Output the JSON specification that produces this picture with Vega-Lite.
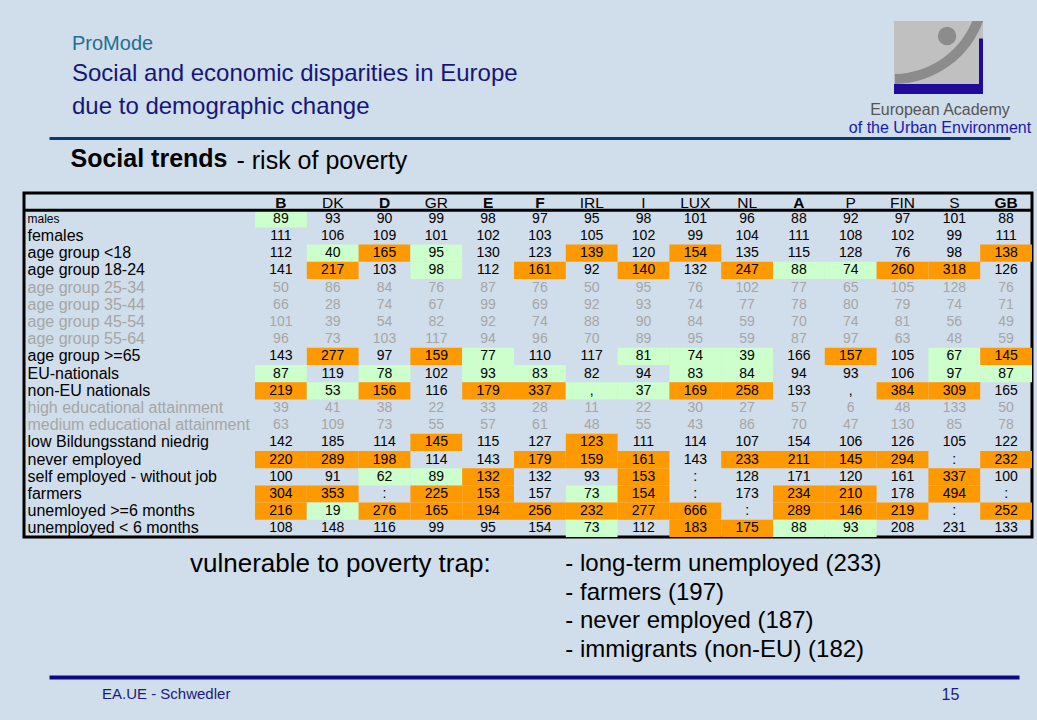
{
  "$schema": "https://vega.github.io/schema/vega-lite/v6.json",
  "background": "#D0DDEA",
  "padding": {"left": 21, "top": 21, "right": 5, "bottom": 19},
  "spacing": 0,
  "bounds": "flush",
  "config": {
    "view": {"stroke": null},
    "font": "Liberation Sans",
    "title": {"font": "Liberation Sans", "subtitleFont": "Liberation Sans"},
    "axis": {"labelFont": "Liberation Sans", "titleFont": "Liberation Sans"},
    "text": {"font": "Liberation Sans"}
  },
  "datasets": {
    "cells": [
      {"row":"males","country":"B","value":"89","level":"low"},{"row":"males","country":"DK","value":"93"},{"row":"males","country":"D","value":"90"},{"row":"males","country":"GR","value":"99"},{"row":"males","country":"E","value":"98"},{"row":"males","country":"F","value":"97"},{"row":"males","country":"IRL","value":"95"},{"row":"males","country":"I","value":"98"},{"row":"males","country":"LUX","value":"101"},{"row":"males","country":"NL","value":"96"},{"row":"males","country":"A","value":"88"},{"row":"males","country":"P","value":"92"},{"row":"males","country":"FIN","value":"97"},{"row":"males","country":"S","value":"101"},{"row":"males","country":"GB","value":"88"},
      {"row":"females","country":"B","value":"111"},{"row":"females","country":"DK","value":"106"},{"row":"females","country":"D","value":"109"},{"row":"females","country":"GR","value":"101"},{"row":"females","country":"E","value":"102"},{"row":"females","country":"F","value":"103"},{"row":"females","country":"IRL","value":"105"},{"row":"females","country":"I","value":"102"},{"row":"females","country":"LUX","value":"99"},{"row":"females","country":"NL","value":"104"},{"row":"females","country":"A","value":"111"},{"row":"females","country":"P","value":"108"},{"row":"females","country":"FIN","value":"102"},{"row":"females","country":"S","value":"99"},{"row":"females","country":"GB","value":"111"},
      {"row":"age group <18","country":"B","value":"112"},{"row":"age group <18","country":"DK","value":"40","level":"low"},{"row":"age group <18","country":"D","value":"165","level":"high"},{"row":"age group <18","country":"GR","value":"95","level":"low"},{"row":"age group <18","country":"E","value":"130"},{"row":"age group <18","country":"F","value":"123"},{"row":"age group <18","country":"IRL","value":"139","level":"high"},{"row":"age group <18","country":"I","value":"120"},{"row":"age group <18","country":"LUX","value":"154","level":"high"},{"row":"age group <18","country":"NL","value":"135"},{"row":"age group <18","country":"A","value":"115"},{"row":"age group <18","country":"P","value":"128"},{"row":"age group <18","country":"FIN","value":"76"},{"row":"age group <18","country":"S","value":"98"},{"row":"age group <18","country":"GB","value":"138","level":"high"},
      {"row":"age group 18-24","country":"B","value":"141"},{"row":"age group 18-24","country":"DK","value":"217","level":"high"},{"row":"age group 18-24","country":"D","value":"103"},{"row":"age group 18-24","country":"GR","value":"98","level":"low"},{"row":"age group 18-24","country":"E","value":"112"},{"row":"age group 18-24","country":"F","value":"161","level":"high"},{"row":"age group 18-24","country":"IRL","value":"92"},{"row":"age group 18-24","country":"I","value":"140","level":"high"},{"row":"age group 18-24","country":"LUX","value":"132"},{"row":"age group 18-24","country":"NL","value":"247","level":"high"},{"row":"age group 18-24","country":"A","value":"88","level":"low"},{"row":"age group 18-24","country":"P","value":"74","level":"low"},{"row":"age group 18-24","country":"FIN","value":"260","level":"high"},{"row":"age group 18-24","country":"S","value":"318","level":"high"},{"row":"age group 18-24","country":"GB","value":"126"},
      {"row":"age group 25-34","country":"B","value":"50"},{"row":"age group 25-34","country":"DK","value":"86"},{"row":"age group 25-34","country":"D","value":"84"},{"row":"age group 25-34","country":"GR","value":"76"},{"row":"age group 25-34","country":"E","value":"87"},{"row":"age group 25-34","country":"F","value":"76"},{"row":"age group 25-34","country":"IRL","value":"50"},{"row":"age group 25-34","country":"I","value":"95"},{"row":"age group 25-34","country":"LUX","value":"76"},{"row":"age group 25-34","country":"NL","value":"102"},{"row":"age group 25-34","country":"A","value":"77"},{"row":"age group 25-34","country":"P","value":"65"},{"row":"age group 25-34","country":"FIN","value":"105"},{"row":"age group 25-34","country":"S","value":"128"},{"row":"age group 25-34","country":"GB","value":"76"},
      {"row":"age group 35-44","country":"B","value":"66"},{"row":"age group 35-44","country":"DK","value":"28"},{"row":"age group 35-44","country":"D","value":"74"},{"row":"age group 35-44","country":"GR","value":"67"},{"row":"age group 35-44","country":"E","value":"99"},{"row":"age group 35-44","country":"F","value":"69"},{"row":"age group 35-44","country":"IRL","value":"92"},{"row":"age group 35-44","country":"I","value":"93"},{"row":"age group 35-44","country":"LUX","value":"74"},{"row":"age group 35-44","country":"NL","value":"77"},{"row":"age group 35-44","country":"A","value":"78"},{"row":"age group 35-44","country":"P","value":"80"},{"row":"age group 35-44","country":"FIN","value":"79"},{"row":"age group 35-44","country":"S","value":"74"},{"row":"age group 35-44","country":"GB","value":"71"},
      {"row":"age group 45-54","country":"B","value":"101"},{"row":"age group 45-54","country":"DK","value":"39"},{"row":"age group 45-54","country":"D","value":"54"},{"row":"age group 45-54","country":"GR","value":"82"},{"row":"age group 45-54","country":"E","value":"92"},{"row":"age group 45-54","country":"F","value":"74"},{"row":"age group 45-54","country":"IRL","value":"88"},{"row":"age group 45-54","country":"I","value":"90"},{"row":"age group 45-54","country":"LUX","value":"84"},{"row":"age group 45-54","country":"NL","value":"59"},{"row":"age group 45-54","country":"A","value":"70"},{"row":"age group 45-54","country":"P","value":"74"},{"row":"age group 45-54","country":"FIN","value":"81"},{"row":"age group 45-54","country":"S","value":"56"},{"row":"age group 45-54","country":"GB","value":"49"},
      {"row":"age group 55-64","country":"B","value":"96"},{"row":"age group 55-64","country":"DK","value":"73"},{"row":"age group 55-64","country":"D","value":"103"},{"row":"age group 55-64","country":"GR","value":"117"},{"row":"age group 55-64","country":"E","value":"94"},{"row":"age group 55-64","country":"F","value":"96"},{"row":"age group 55-64","country":"IRL","value":"70"},{"row":"age group 55-64","country":"I","value":"89"},{"row":"age group 55-64","country":"LUX","value":"95"},{"row":"age group 55-64","country":"NL","value":"59"},{"row":"age group 55-64","country":"A","value":"87"},{"row":"age group 55-64","country":"P","value":"97"},{"row":"age group 55-64","country":"FIN","value":"63"},{"row":"age group 55-64","country":"S","value":"48"},{"row":"age group 55-64","country":"GB","value":"59"},
      {"row":"age group >=65","country":"B","value":"143"},{"row":"age group >=65","country":"DK","value":"277","level":"high"},{"row":"age group >=65","country":"D","value":"97"},{"row":"age group >=65","country":"GR","value":"159","level":"high"},{"row":"age group >=65","country":"E","value":"77","level":"low"},{"row":"age group >=65","country":"F","value":"110"},{"row":"age group >=65","country":"IRL","value":"117"},{"row":"age group >=65","country":"I","value":"81","level":"low"},{"row":"age group >=65","country":"LUX","value":"74","level":"low"},{"row":"age group >=65","country":"NL","value":"39","level":"low"},{"row":"age group >=65","country":"A","value":"166"},{"row":"age group >=65","country":"P","value":"157","level":"high"},{"row":"age group >=65","country":"FIN","value":"105"},{"row":"age group >=65","country":"S","value":"67","level":"low"},{"row":"age group >=65","country":"GB","value":"145","level":"high"},
      {"row":"EU-nationals","country":"B","value":"87","level":"low"},{"row":"EU-nationals","country":"DK","value":"119"},{"row":"EU-nationals","country":"D","value":"78","level":"low"},{"row":"EU-nationals","country":"GR","value":"102"},{"row":"EU-nationals","country":"E","value":"93","level":"low"},{"row":"EU-nationals","country":"F","value":"83","level":"low"},{"row":"EU-nationals","country":"IRL","value":"82"},{"row":"EU-nationals","country":"I","value":"94"},{"row":"EU-nationals","country":"LUX","value":"83","level":"low"},{"row":"EU-nationals","country":"NL","value":"84","level":"low"},{"row":"EU-nationals","country":"A","value":"94"},{"row":"EU-nationals","country":"P","value":"93"},{"row":"EU-nationals","country":"FIN","value":"106"},{"row":"EU-nationals","country":"S","value":"97","level":"low"},{"row":"EU-nationals","country":"GB","value":"87","level":"low"},
      {"row":"non-EU nationals","country":"B","value":"219","level":"high"},{"row":"non-EU nationals","country":"DK","value":"53","level":"low"},{"row":"non-EU nationals","country":"D","value":"156","level":"high"},{"row":"non-EU nationals","country":"GR","value":"116"},{"row":"non-EU nationals","country":"E","value":"179","level":"high"},{"row":"non-EU nationals","country":"F","value":"337","level":"high"},{"row":"non-EU nationals","country":"IRL","value":",","level":"low"},{"row":"non-EU nationals","country":"I","value":"37","level":"low"},{"row":"non-EU nationals","country":"LUX","value":"169","level":"high"},{"row":"non-EU nationals","country":"NL","value":"258","level":"high"},{"row":"non-EU nationals","country":"A","value":"193"},{"row":"non-EU nationals","country":"P","value":","},{"row":"non-EU nationals","country":"FIN","value":"384","level":"high"},{"row":"non-EU nationals","country":"S","value":"309","level":"high"},{"row":"non-EU nationals","country":"GB","value":"165"},
      {"row":"high educational attainment","country":"B","value":"39"},{"row":"high educational attainment","country":"DK","value":"41"},{"row":"high educational attainment","country":"D","value":"38"},{"row":"high educational attainment","country":"GR","value":"22"},{"row":"high educational attainment","country":"E","value":"33"},{"row":"high educational attainment","country":"F","value":"28"},{"row":"high educational attainment","country":"IRL","value":"11"},{"row":"high educational attainment","country":"I","value":"22"},{"row":"high educational attainment","country":"LUX","value":"30"},{"row":"high educational attainment","country":"NL","value":"27"},{"row":"high educational attainment","country":"A","value":"57"},{"row":"high educational attainment","country":"P","value":"6"},{"row":"high educational attainment","country":"FIN","value":"48"},{"row":"high educational attainment","country":"S","value":"133"},{"row":"high educational attainment","country":"GB","value":"50"},
      {"row":"medium educational attainment","country":"B","value":"63"},{"row":"medium educational attainment","country":"DK","value":"109"},{"row":"medium educational attainment","country":"D","value":"73"},{"row":"medium educational attainment","country":"GR","value":"55"},{"row":"medium educational attainment","country":"E","value":"57"},{"row":"medium educational attainment","country":"F","value":"61"},{"row":"medium educational attainment","country":"IRL","value":"48"},{"row":"medium educational attainment","country":"I","value":"55"},{"row":"medium educational attainment","country":"LUX","value":"43"},{"row":"medium educational attainment","country":"NL","value":"86"},{"row":"medium educational attainment","country":"A","value":"70"},{"row":"medium educational attainment","country":"P","value":"47"},{"row":"medium educational attainment","country":"FIN","value":"130"},{"row":"medium educational attainment","country":"S","value":"85"},{"row":"medium educational attainment","country":"GB","value":"78"},
      {"row":"low Bildungsstand niedrig","country":"B","value":"142"},{"row":"low Bildungsstand niedrig","country":"DK","value":"185"},{"row":"low Bildungsstand niedrig","country":"D","value":"114"},{"row":"low Bildungsstand niedrig","country":"GR","value":"145","level":"high"},{"row":"low Bildungsstand niedrig","country":"E","value":"115"},{"row":"low Bildungsstand niedrig","country":"F","value":"127"},{"row":"low Bildungsstand niedrig","country":"IRL","value":"123","level":"high"},{"row":"low Bildungsstand niedrig","country":"I","value":"111"},{"row":"low Bildungsstand niedrig","country":"LUX","value":"114"},{"row":"low Bildungsstand niedrig","country":"NL","value":"107"},{"row":"low Bildungsstand niedrig","country":"A","value":"154"},{"row":"low Bildungsstand niedrig","country":"P","value":"106"},{"row":"low Bildungsstand niedrig","country":"FIN","value":"126"},{"row":"low Bildungsstand niedrig","country":"S","value":"105"},{"row":"low Bildungsstand niedrig","country":"GB","value":"122"},
      {"row":"never employed","country":"B","value":"220","level":"high"},{"row":"never employed","country":"DK","value":"289","level":"high"},{"row":"never employed","country":"D","value":"198","level":"high"},{"row":"never employed","country":"GR","value":"114"},{"row":"never employed","country":"E","value":"143"},{"row":"never employed","country":"F","value":"179","level":"high"},{"row":"never employed","country":"IRL","value":"159","level":"high"},{"row":"never employed","country":"I","value":"161","level":"high"},{"row":"never employed","country":"LUX","value":"143"},{"row":"never employed","country":"NL","value":"233","level":"high"},{"row":"never employed","country":"A","value":"211","level":"high"},{"row":"never employed","country":"P","value":"145","level":"high"},{"row":"never employed","country":"FIN","value":"294","level":"high"},{"row":"never employed","country":"S","value":":"},{"row":"never employed","country":"GB","value":"232","level":"high"},
      {"row":"self employed - without job","country":"B","value":"100"},{"row":"self employed - without job","country":"DK","value":"91"},{"row":"self employed - without job","country":"D","value":"62","level":"low"},{"row":"self employed - without job","country":"GR","value":"89","level":"low"},{"row":"self employed - without job","country":"E","value":"132","level":"high"},{"row":"self employed - without job","country":"F","value":"132"},{"row":"self employed - without job","country":"IRL","value":"93"},{"row":"self employed - without job","country":"I","value":"153","level":"high"},{"row":"self employed - without job","country":"LUX","value":":"},{"row":"self employed - without job","country":"NL","value":"128"},{"row":"self employed - without job","country":"A","value":"171"},{"row":"self employed - without job","country":"P","value":"120"},{"row":"self employed - without job","country":"FIN","value":"161"},{"row":"self employed - without job","country":"S","value":"337","level":"high"},{"row":"self employed - without job","country":"GB","value":"100"},
      {"row":"farmers","country":"B","value":"304","level":"high"},{"row":"farmers","country":"DK","value":"353","level":"high"},{"row":"farmers","country":"D","value":":"},{"row":"farmers","country":"GR","value":"225","level":"high"},{"row":"farmers","country":"E","value":"153","level":"high"},{"row":"farmers","country":"F","value":"157"},{"row":"farmers","country":"IRL","value":"73","level":"low"},{"row":"farmers","country":"I","value":"154","level":"high"},{"row":"farmers","country":"LUX","value":":"},{"row":"farmers","country":"NL","value":"173"},{"row":"farmers","country":"A","value":"234","level":"high"},{"row":"farmers","country":"P","value":"210","level":"high"},{"row":"farmers","country":"FIN","value":"178"},{"row":"farmers","country":"S","value":"494","level":"high"},{"row":"farmers","country":"GB","value":":"},
      {"row":"unemloyed >=6 months","country":"B","value":"216","level":"high"},{"row":"unemloyed >=6 months","country":"DK","value":"19","level":"low"},{"row":"unemloyed >=6 months","country":"D","value":"276","level":"high"},{"row":"unemloyed >=6 months","country":"GR","value":"165","level":"high"},{"row":"unemloyed >=6 months","country":"E","value":"194","level":"high"},{"row":"unemloyed >=6 months","country":"F","value":"256","level":"high"},{"row":"unemloyed >=6 months","country":"IRL","value":"232","level":"high"},{"row":"unemloyed >=6 months","country":"I","value":"277","level":"high"},{"row":"unemloyed >=6 months","country":"LUX","value":"666","level":"high"},{"row":"unemloyed >=6 months","country":"NL","value":":"},{"row":"unemloyed >=6 months","country":"A","value":"289","level":"high"},{"row":"unemloyed >=6 months","country":"P","value":"146","level":"high"},{"row":"unemloyed >=6 months","country":"FIN","value":"219","level":"high"},{"row":"unemloyed >=6 months","country":"S","value":":"},{"row":"unemloyed >=6 months","country":"GB","value":"252","level":"high"},
      {"row":"unemployed < 6 months","country":"B","value":"108"},{"row":"unemployed < 6 months","country":"DK","value":"148"},{"row":"unemployed < 6 months","country":"D","value":"116"},{"row":"unemployed < 6 months","country":"GR","value":"99"},{"row":"unemployed < 6 months","country":"E","value":"95"},{"row":"unemployed < 6 months","country":"F","value":"154"},{"row":"unemployed < 6 months","country":"IRL","value":"73","level":"low"},{"row":"unemployed < 6 months","country":"I","value":"112"},{"row":"unemployed < 6 months","country":"LUX","value":"183","level":"high"},{"row":"unemployed < 6 months","country":"NL","value":"175","level":"high"},{"row":"unemployed < 6 months","country":"A","value":"88","level":"low"},{"row":"unemployed < 6 months","country":"P","value":"93","level":"low"},{"row":"unemployed < 6 months","country":"FIN","value":"208"},{"row":"unemployed < 6 months","country":"S","value":"231"},{"row":"unemployed < 6 months","country":"GB","value":"133"}
    ],
    "footer": [
      {"col": "head", "line": 1, "text": "vulnerable to poverty trap:"},
      {"col": "item", "line": 1, "text": "- long-term unemployed (233)"},
      {"col": "item", "line": 2, "text": "- farmers (197)"},
      {"col": "item", "line": 3, "text": "- never employed (187)"},
      {"col": "item", "line": 4, "text": "- immigrants (non-EU) (182)"}
    ]
  },
  "vconcat": [
    {
      "width": 1008,
      "height": 73,
      "data": {"values": [{}]},
      "title": {
        "text": "ProMode",
        "subtitle": ["Social and economic disparities in Europe", "due to demographic change"],
        "orient": "top",
        "anchor": "start",
        "dx": 48,
        "offset": -98,
        "fontSize": 20,
        "fontWeight": "normal",
        "color": "#20708F",
        "subtitleFontSize": 24,
        "subtitleColor": "#161679",
        "subtitleLineHeight": 33,
        "subtitlePadding": 8
      },
      "layer": [
        {
          "mark": {"type": "rect", "color": "#C0C0C0"},
          "encoding": {
            "x": {"datum": 0, "type": "quantitative", "scale": {"domain": [0, 1], "range": [870, 959], "nice": false, "zero": false}, "axis": null},
            "x2": {"datum": 1},
            "y": {"datum": 0, "type": "quantitative", "scale": {"domain": [0, 1], "nice": false, "zero": false}, "axis": null},
            "y2": {"datum": 1}
          }
        },
        {
          "mark": {"type": "arc", "theta": 1.9, "theta2": 3.12, "radius": 96, "radius2": 86, "color": "#8C8C8C", "clip": true},
          "encoding": {
            "x": {"datum": -0.011, "type": "quantitative"},
            "y": {"datum": 1.452, "type": "quantitative"}
          }
        },
        {
          "mark": {"type": "point", "filled": true, "size": 340, "color": "#8C8C8C", "opacity": 1},
          "encoding": {
            "x": {"datum": 0.596, "type": "quantitative"},
            "y": {"datum": 0.795, "type": "quantitative"}
          }
        },
        {
          "mark": {"type": "rect", "color": "#200A9A"},
          "encoding": {
            "x": {"datum": 0, "type": "quantitative"},
            "x2": {"datum": 1},
            "y": {"datum": 0, "type": "quantitative"},
            "y2": {"datum": 0.137}
          }
        },
        {
          "mark": {"type": "rect", "color": "#200A9A"},
          "encoding": {
            "x": {"datum": 0.955, "type": "quantitative"},
            "x2": {"datum": 1},
            "y": {"datum": 0, "type": "quantitative"},
            "y2": {"datum": 0.76}
          }
        }
      ]
    },
    {
      "width": 1008,
      "height": 99,
      "data": {"values": []},
      "mark": "point",
      "title": {
        "text": "European Academy",
        "subtitle": "of the Urban Environment",
        "orient": "top",
        "anchor": "end",
        "align": "center",
        "dx": -92,
        "offset": -42,
        "fontSize": 16,
        "fontWeight": "normal",
        "color": "#555555",
        "subtitleFontSize": 16,
        "subtitleColor": "#1A1AB0",
        "subtitlePadding": 2
      },
      "encoding": {
        "x": {
          "field": "v",
          "type": "quantitative",
          "scale": {"domain": [0, 1], "range": [25, 986]},
          "axis": {"orient": "bottom", "offset": -55, "domain": true, "domainColor": "#0B3A70", "domainWidth": 3, "ticks": false, "labels": false, "grid": false, "title": null}
        }
      }
    },
    {
      "width": 1008,
      "height": 344,
      "view": {"stroke": "#000000", "strokeWidth": 3},
      "title": {
        "text": "Social trends",
        "orient": "top",
        "anchor": "start",
        "dx": 48,
        "offset": -24,
        "fontSize": 25,
        "fontWeight": "bold",
        "color": "#000000"
      },
      "layer": [
        {
          "data": {"name": "cells"},
          "transform": [{"filter": "datum.level"}],
          "mark": {"type": "rect"},
          "encoding": {
            "x": {
              "field": "country",
              "type": "nominal",
              "scale": {"type": "band", "domain": ["B","DK","D","GR","E","F","IRL","I","LUX","NL","A","P","FIN","S","GB"], "range": [231, 1008], "paddingInner": 0, "paddingOuter": 0},
              "axis": {
                "orient": "top",
                "domain": false,
                "ticks": false,
                "tickSize": 0,
                "labelPadding": -17,
                "labelAngle": 0,
                "labelFontSize": 15.5,
                "labelColor": "#000000",
                "labelFontWeight": {"condition": {"test": "indexof(['B','D','E','F','A','GB'], datum.value) >= 0", "value": "bold"}, "value": "normal"},
                "grid": false,
                "title": "- risk of poverty",
                "titleX": 212,
                "titleY": -25,
                "titleAlign": "left",
                "titleBaseline": "alphabetic",
                "titleFontSize": 25,
                "titleFontWeight": "normal",
                "titleColor": "#000000"
              }
            },
            "y": {
              "field": "row",
              "type": "nominal",
              "scale": {"type": "band", "domain": ["header","males","females","age group <18","age group 18-24","age group 25-34","age group 35-44","age group 45-54","age group 55-64","age group >=65","EU-nationals","non-EU nationals","high educational attainment","medium educational attainment","low Bildungsstand niedrig","never employed","self employed - without job","farmers","unemloyed >=6 months","unemployed < 6 months"], "paddingInner": 0, "paddingOuter": 0},
              "axis": {
                "orient": "left",
                "domain": false,
                "ticks": false,
                "tickSize": 0,
                "labelAlign": "left",
                "labelBaseline": "middle",
                "labelPadding": -3,
                "labelLimit": 0,
                "labelOverlap": false,
                "labelExpr": "datum.value == 'header' ? '' : datum.value",
                "labelFontSize": {"condition": {"test": "datum.value == 'males'", "value": 12}, "value": 16},
                "labelColor": {"condition": {"test": "indexof(['age group 25-34','age group 35-44','age group 45-54','age group 55-64','high educational attainment','medium educational attainment'], datum.value) >= 0", "value": "#A6A6A6"}, "value": "#000000"},
                "grid": false,
                "title": null
              }
            },
            "color": {"field": "level", "type": "nominal", "scale": {"domain": ["high", "low"], "range": ["#FF9900", "#CCFFCC"]}, "legend": null}
          }
        },
        {
          "data": {"name": "cells"},
          "mark": {"type": "text", "fontSize": 14, "baseline": "middle", "align": "center"},
          "encoding": {
            "x": {"field": "country", "type": "nominal"},
            "y": {"field": "row", "type": "nominal"},
            "text": {"field": "value"},
            "color": {"condition": {"test": "indexof(['age group 25-34','age group 35-44','age group 45-54','age group 55-64','high educational attainment','medium educational attainment'], datum.row) >= 0", "value": "#A6A6A6"}, "value": "#000000"}
          }
        },
        {
          "data": {"values": [{}]},
          "mark": {"type": "rule", "color": "#000000", "strokeWidth": 3},
          "encoding": {"y": {"datum": "males", "type": "nominal", "bandPosition": 0}}
        }
      ]
    },
    {
      "width": 1008,
      "height": 140,
      "data": {"name": "footer"},
      "encoding": {
        "y": {"field": "line", "type": "ordinal", "scale": {"type": "band", "domain": [1, 2, 3, 4], "paddingInner": 0, "paddingOuter": 0.43}, "axis": null}
      },
      "layer": [
        {
          "transform": [{"filter": "datum.col == 'head'"}],
          "mark": {"type": "text", "align": "right", "baseline": "middle", "fontSize": 26, "color": "#000000"},
          "encoding": {
            "x": {"field": "col", "type": "nominal", "bandPosition": 1, "scale": {"type": "band", "domain": ["head", "item"], "paddingInner": 0.138, "paddingOuter": 0}, "axis": null},
            "text": {"field": "text"}
          }
        },
        {
          "transform": [{"filter": "datum.col == 'item'"}],
          "mark": {"type": "text", "align": "left", "baseline": "middle", "fontSize": 24, "color": "#000000"},
          "encoding": {
            "x": {"field": "col", "type": "nominal", "bandPosition": 0},
            "text": {"field": "text"}
          }
        }
      ]
    },
    {
      "width": 1008,
      "height": 1,
      "data": {"values": []},
      "mark": "point",
      "title": {
        "text": "EA.UE - Schwedler",
        "orient": "bottom",
        "anchor": "start",
        "dx": 78,
        "offset": -15,
        "fontSize": 15,
        "fontWeight": "normal",
        "color": "#1A1A80"
      },
      "encoding": {
        "x": {
          "field": "v",
          "type": "quantitative",
          "scale": {"domain": [0, 1], "range": [25, 995]},
          "axis": {"orient": "top", "domain": true, "domainColor": "#0A0A80", "domainWidth": 4, "ticks": false, "labels": false, "grid": false, "title": "15", "titleX": 926, "titleY": 17, "titleAlign": "center", "titleBaseline": "middle", "titleFontSize": 16, "titleFontWeight": "normal", "titleColor": "#1A1A80"}
        }
      }
    }
  ]
}
